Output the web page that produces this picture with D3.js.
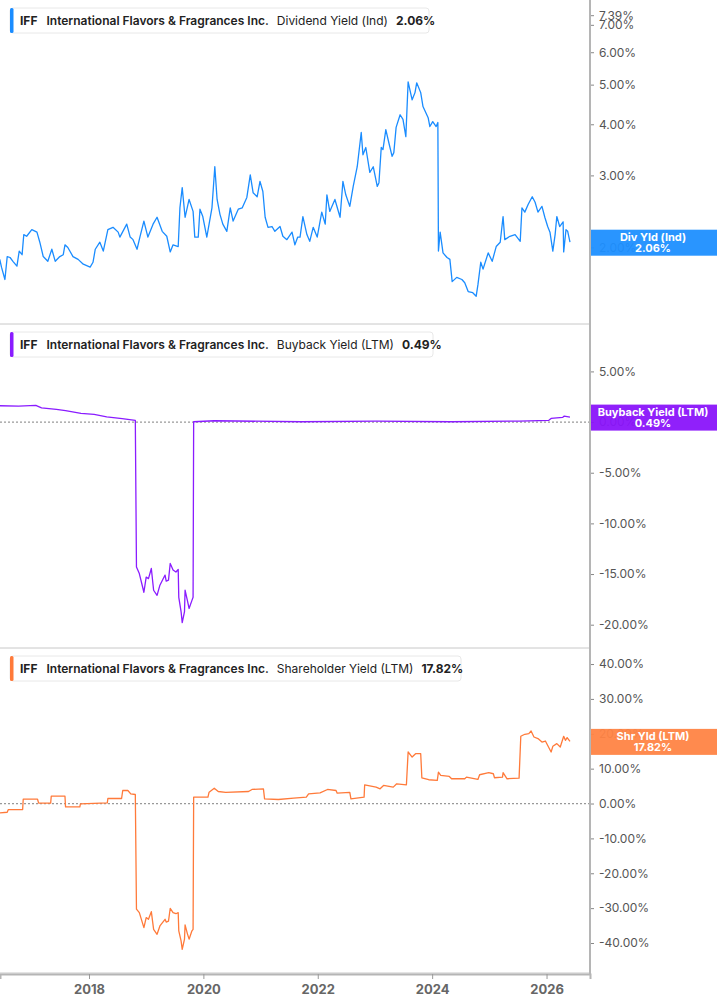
<!DOCTYPE html>
<html>
<head>
<meta charset="utf-8">
<script src="https://cdn.jsdelivr.net/npm/d3@7"></script>
<style>
  body { margin: 0; background: #fff; }
  svg { font-family: Inter, "Noto Sans", sans-serif; }
</style>
</head>
<body>
<svg id="svg1" width="717" height="1005"></svg>
<script>
// values: [decimal year, percent]
var divYield = [
  [2016.44,1.87],[2016.47,1.79],[2016.53,1.67],[2016.57,1.90],[2016.62,1.89],[2016.67,1.85],[2016.74,1.80],
  [2016.78,1.96],[2016.83,1.92],[2016.86,2.15],[2016.91,2.13],[2017.00,2.21],[2017.09,2.18],[2017.14,2.06],
  [2017.20,1.90],[2017.28,1.85],[2017.35,1.98],[2017.41,1.85],[2017.49,1.90],[2017.55,1.92],[2017.58,2.03],
  [2017.63,2.00],[2017.72,1.90],[2017.81,1.87],[2017.90,1.82],[2018.02,1.79],[2018.07,1.84],[2018.11,1.98],
  [2018.19,2.06],[2018.25,1.96],[2018.33,2.21],[2018.42,2.24],[2018.51,2.18],[2018.54,2.12],[2018.66,2.28],
  [2018.72,2.12],[2018.77,2.09],[2018.84,1.98],[2018.89,2.12],[2018.96,2.32],[2019.03,2.12],[2019.12,2.28],
  [2019.19,2.37],[2019.28,2.19],[2019.36,2.13],[2019.42,1.95],[2019.47,2.03],[2019.56,2.01],[2019.59,2.50],
  [2019.63,2.80],[2019.68,2.37],[2019.75,2.62],[2019.82,2.45],[2019.85,2.12],[2019.91,2.12],[2019.94,2.48],
  [2019.99,2.38],[2020.06,2.12],[2020.15,2.50],[2020.20,3.15],[2020.24,2.62],[2020.29,2.41],[2020.34,2.28],
  [2020.41,2.19],[2020.47,2.50],[2020.52,2.32],[2020.61,2.48],[2020.68,2.50],[2020.76,2.65],[2020.82,3.01],
  [2020.87,2.72],[2020.94,2.66],[2020.99,2.90],[2021.04,2.74],[2021.08,2.37],[2021.13,2.24],[2021.20,2.25],
  [2021.25,2.19],[2021.34,2.25],[2021.39,2.13],[2021.46,2.09],[2021.55,2.18],[2021.60,2.03],[2021.65,2.12],
  [2021.69,2.12],[2021.74,2.38],[2021.81,2.15],[2021.86,2.07],[2021.92,2.24],[2021.99,2.12],[2022.07,2.44],
  [2022.13,2.28],[2022.16,2.69],[2022.21,2.45],[2022.30,2.62],[2022.39,2.37],[2022.44,2.90],[2022.49,2.69],
  [2022.56,2.52],[2022.62,2.82],[2022.69,3.15],[2022.76,3.82],[2022.79,3.37],[2022.84,3.51],[2022.91,3.05],
  [2022.97,3.15],[2023.04,2.82],[2023.07,2.88],[2023.11,3.51],[2023.14,3.47],[2023.19,3.88],[2023.25,3.57],
  [2023.30,3.34],[2023.33,3.41],[2023.37,3.93],[2023.44,4.22],[2023.49,4.11],[2023.54,3.73],[2023.58,5.08],
  [2023.65,4.59],[2023.70,4.78],[2023.73,5.05],[2023.80,4.78],[2023.84,4.42],[2023.93,4.15],[2023.96,3.95],
  [2024.01,4.06],[2024.07,3.95],[2024.10,4.04],[2024.11,1.96],[2024.14,2.18],[2024.19,1.94],[2024.26,1.89],
  [2024.31,1.87],[2024.35,1.65],[2024.43,1.69],[2024.52,1.67],[2024.57,1.64],[2024.63,1.56],[2024.71,1.55],
  [2024.77,1.52],[2024.80,1.62],[2024.85,1.84],[2024.89,1.77],[2024.98,1.94],[2025.05,1.85],[2025.12,2.01],
  [2025.19,2.06],[2025.24,2.38],[2025.27,2.09],[2025.36,2.13],[2025.45,2.15],[2025.54,2.07],[2025.57,2.50],
  [2025.62,2.44],[2025.68,2.55],[2025.75,2.66],[2025.80,2.58],[2025.85,2.44],[2025.92,2.52],[2025.97,2.37],
  [2026.02,2.25],[2026.06,2.18],[2026.11,1.96],[2026.15,2.15],[2026.18,2.38],[2026.23,2.25],[2026.29,2.31],
  [2026.30,1.95],[2026.34,2.21],[2026.37,2.19],[2026.41,2.06]
];

var buybackYield = [
  [2016.44,1.61],[2016.77,1.58],[2017.07,1.65],[2017.17,1.41],[2017.43,1.25],[2017.59,1.12],[2017.86,0.86],
  [2018.09,0.76],[2018.31,0.52],[2018.58,0.33],[2018.81,0.17],[2018.83,-14.3],[2018.88,-14.95],[2018.96,-16.8],
  [2019.00,-15.3],[2019.04,-15.45],[2019.09,-14.45],[2019.13,-16.6],[2019.19,-17.1],[2019.24,-16.1],
  [2019.33,-15.1],[2019.35,-15.7],[2019.39,-15.6],[2019.42,-13.96],[2019.47,-14.6],[2019.52,-14.8],
  [2019.56,-14.55],[2019.57,-17.3],[2019.61,-18.7],[2019.63,-19.8],[2019.67,-18.7],[2019.68,-16.6],
  [2019.72,-17.6],[2019.75,-18.4],[2019.80,-17.6],[2019.82,-17.3],[2019.83,0.03],[2020.19,0.13],
  [2021.71,0.03],[2023.02,0.10],[2024.34,0.03],[2025.52,0.10],[2026.04,0.17],[2026.08,0.36],[2026.28,0.46],
  [2026.31,0.59],[2026.41,0.49]
];

var shrYield = [
  [2016.44,-2.68],[2016.57,-2.5],[2016.59,-1.73],[2016.84,-1.73],[2016.85,1.24],[2017.10,1.24],[2017.12,0.1],
  [2017.33,0.1],[2017.34,2.1],[2017.58,2.1],[2017.59,-0.96],[2017.84,-0.96],[2017.85,-0.1],[2018.32,0.2],
  [2018.33,1.44],[2018.57,1.44],[2018.59,3.74],[2018.68,3.74],[2018.73,2.78],[2018.81,2.59],[2018.83,-30.3],
  [2018.88,-31.3],[2018.96,-35.6],[2019.00,-32.7],[2019.04,-33.2],[2019.09,-31.0],[2019.13,-36.1],
  [2019.19,-37.5],[2019.24,-35.1],[2019.33,-33.2],[2019.35,-34.0],[2019.39,-33.7],[2019.42,-30.1],
  [2019.47,-31.3],[2019.52,-31.6],[2019.56,-31.3],[2019.57,-36.5],[2019.61,-39.4],[2019.63,-41.8],
  [2019.67,-38.9],[2019.68,-34.8],[2019.72,-37.3],[2019.75,-38.9],[2019.80,-36.5],[2019.82,-36.1],
  [2019.83,1.82],[2020.08,1.82],[2020.10,3.26],[2020.19,4.41],[2020.26,3.45],[2020.39,3.17],[2020.79,3.45],
  [2020.85,4.03],[2021.05,4.22],[2021.07,1.34],[2021.31,1.15],[2021.58,1.53],[2021.80,1.82],[2021.84,2.78],
  [2022.04,3.07],[2022.17,4.03],[2022.32,3.74],[2022.34,2.97],[2022.56,3.17],[2022.58,1.34],[2022.81,1.82],
  [2022.82,5.37],[2023.02,4.70],[2023.09,4.22],[2023.15,5.18],[2023.32,4.70],[2023.38,5.66],[2023.55,5.37],
  [2023.58,14.77],[2023.65,13.33],[2023.71,14.29],[2023.80,14.29],[2023.82,7.39],[2023.94,6.82],
  [2024.09,6.62],[2024.11,9.0],[2024.15,8.06],[2024.30,7.77],[2024.34,7.1],[2024.57,7.1],[2024.60,7.57],
  [2024.80,6.91],[2024.83,8.25],[2024.99,8.83],[2025.07,8.54],[2025.09,7.39],[2025.23,7.57],[2025.24,8.83],
  [2025.31,7.1],[2025.52,7.28],[2025.55,19.28],[2025.62,19.86],[2025.69,20.06],[2025.73,20.81],
  [2025.78,19.08],[2025.85,18.62],[2025.92,17.64],[2025.98,17.93],[2026.08,14.77],[2026.11,16.4],
  [2026.18,17.18],[2026.24,16.2],[2026.30,19.28],[2026.33,18.13],[2026.36,18.91],[2026.41,17.82]
];

var yearTicks = [2018, 2020, 2022, 2024, 2026];
var divTicks = [2, 3, 4, 5, 6, 7, 7.39];
var buybackTicks = [5, 0, -5, -10, -15, -20];
var shrTicks = [40, 30, 20, 10, 0, -10, -20, -30, -40];

var svg = d3.select('#svg1');
var plotW = 590;

var x = d3.scaleLinear().domain([2016.444, 2026.76]).range([0, plotW]);

// percent labels with a plain hyphen for negatives
var pct = function(d) { return d.toFixed(2) + '%'; };

// three stacked panels
var panels = [
  {data: divYield, y: d3.scaleLog().domain([1.30, 8.05]).range([324, 0]), top: 0, bottom: 324,
   ticks: divTicks, color: '#1a8cff', box: '#1e8fff', zero: false,
   metric: 'Dividend Yield (Ind)', short: 'Div Yld (Ind)', value: '2.06%', boxW: 419},
  {data: buybackYield, y: d3.scaleLinear().domain([-22.3, 9.68]).range([648, 324]), top: 324, bottom: 648,
   ticks: buybackTicks, color: '#8a1cff', box: '#8a14fa', zero: true,
   metric: 'Buyback Yield (LTM)', short: 'Buyback Yield (LTM)', value: '0.49%', boxW: 423},
  {data: shrYield, y: d3.scaleLinear().domain([-48.6, 44.6]).range([973, 648]), top: 648, bottom: 973,
   ticks: shrTicks, color: '#ff7a3a', box: '#ff8444', zero: true,
   metric: 'Shareholder Yield (LTM)', short: 'Shr Yld (LTM)', value: '17.82%', boxW: 451}
];

var defs = svg.append('defs');

panels.forEach(function(p, i) {
  defs.append('clipPath').attr('id', 'clip' + i)
    .append('rect').attr('x', 0).attr('y', p.top).attr('width', plotW).attr('height', p.bottom - p.top);

  // panel separator
  svg.append('line')
    .attr('x1', 0).attr('x2', plotW).attr('y1', p.bottom).attr('y2', p.bottom)
    .attr('stroke', '#c8c8c8').attr('stroke-width', 1);

  if (p.zero) {
    svg.append('line')
      .attr('x1', 0).attr('x2', plotW).attr('y1', p.y(0)).attr('y2', p.y(0))
      .attr('stroke', '#999').attr('stroke-width', 1.2).attr('stroke-dasharray', '2,2');
  }

  var line = d3.line()
    .x(function(d) { return x(d[0]); })
    .y(function(d) { return p.y(d[1]); });

  svg.append('path')
    .datum(p.data)
    .attr('clip-path', 'url(#clip' + i + ')')
    .attr('d', line)
    .attr('fill', 'none')
    .attr('stroke', p.color)
    .attr('stroke-width', 1.3)
    .attr('stroke-linejoin', 'round');

  // right axis
  var axis = d3.axisRight(p.y)
    .tickValues(p.ticks)
    .tickSize(4)
    .tickPadding(5)
    .tickFormat(pct);

  var g = svg.append('g')
    .attr('transform', 'translate(' + plotW + ',0)')
    .call(axis);
  g.select('.domain').remove();
  g.selectAll('.tick line').attr('stroke', '#888');
  g.selectAll('.tick text').attr('fill', '#555').attr('font-size', 12).attr('font-family', 'Inter, sans-serif');

  // legend box
  var lg = svg.append('g').attr('transform', 'translate(10,' + (p.top + 8) + ')');
  lg.append('rect')
    .attr('width', p.boxW).attr('height', 25).attr('rx', 3)
    .attr('fill', '#fff').attr('stroke', '#e8e8e8');
  lg.append('rect')
    .attr('width', 3.5).attr('height', 25).attr('rx', 1.5)
    .attr('fill', p.color);
  var t = lg.append('text').attr('x', 10).attr('y', 16.5).attr('font-size', 12).attr('fill', '#222');
  t.append('tspan').attr('font-weight', 700).text('IFF');
  t.append('tspan').attr('dx', 9).attr('font-weight', 600).text('International Flavors & Fragrances Inc.');
  t.append('tspan').attr('dx', 8).attr('font-weight', 400).text(p.metric);
  t.append('tspan').attr('dx', 8).attr('font-weight', 700).text(p.value);

  // value tag at the right edge
  var last = p.data[p.data.length - 1];
  var ty = p.y(last[1]);
  var tag = svg.append('g').attr('transform', 'translate(' + plotW + ',' + (ty - 12.5) + ')');
  tag.append('rect').attr('width', 717 - plotW).attr('height', 26).attr('fill', p.box).attr('opacity', 0.95);
  tag.append('text').attr('x', 63).attr('y', 11).attr('text-anchor', 'middle')
    .attr('font-size', 11).attr('font-weight', 700).attr('fill', '#fff').text(p.short);
  tag.append('text').attr('x', 63).attr('y', 22.5).attr('text-anchor', 'middle')
    .attr('font-size', 11).attr('font-weight', 700).attr('fill', '#fff').text(p.value);
});

// vertical axis line
svg.append('line')
  .attr('x1', plotW).attr('x2', plotW).attr('y1', 0).attr('y2', 974)
  .attr('stroke', '#b5b5b5').attr('stroke-width', 2);

// x axis at the bottom
var xg = svg.append('g')
  .attr('transform', 'translate(0,974)')
  .call(d3.axisBottom(x).tickValues(yearTicks).tickFormat(d3.format('d')).tickSize(5).tickPadding(6));
xg.select('.domain').attr('stroke', '#b5b5b5').attr('stroke-width', 2);
xg.selectAll('.tick line').attr('stroke', '#999');
xg.selectAll('.tick text').attr('fill', '#666').attr('font-size', 13).attr('font-weight', 700)
  .attr('font-family', 'Inter, sans-serif');
</script>
</body>
</html>
